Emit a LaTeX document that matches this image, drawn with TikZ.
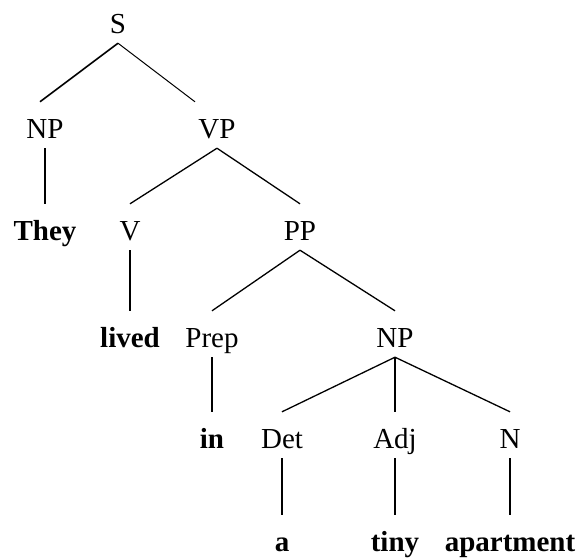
\documentclass[tikz,border=0pt]{standalone}
\usepackage{fontspec}
\setmainfont{Liberation Serif}
\begin{document}
\begin{tikzpicture}[x=1pt,y=-1pt,
    cat/.style={anchor=base,inner xsep=2pt,inner ysep=4pt,text height=32pt,text depth=6pt,font=\fontsize{29}{34}\selectfont},
    word/.style={cat,font=\fontsize{29}{34}\selectfont\bfseries},
    branch/.style={line width=1.3pt}]
    \useasboundingbox (0,0) rectangle (582,558);
    % top
    \node[cat] (s) at (118,33) {S};
    \node[cat] (np) at (45,138) {NP};
    \node[cat] (vp) at (217,138) {VP};
    \draw[branch,line width=1.6pt] (s.south) -- ([xshift=-5pt]np.north);
    \draw[branch,line width=1pt] (s.south) -- ([xshift=-22pt]vp.north);
    % subject
    \node[word] (they) at (45,240) {They};
    \draw[branch] (np.south) -- (they.north);
    % verb phrase
    \node[cat] (v) at (130,240) {V};
    \node[cat] (pp) at (300,240) {PP};
    \draw[branch] (vp.south) -- (v.north);
    \draw[branch] (vp.south) -- (pp.north);
    \node[word] (lived) at (130,347) {lived};
    \draw[branch] (v.south) -- (lived.north);
    % prepositional phrase
    \node[cat] (prep) at (212,347) {Prep};
    \node[cat] (npb) at (395,347) {NP};
    \draw[branch] (pp.south) -- (prep.north);
    \draw[branch] (pp.south) -- (npb.north);
    \node[word] (in) at (212,448) {in};
    \draw[branch] (prep.south) -- (in.north);
    % object
    \node[cat] (det) at (282,448) {Det};
    \node[cat] (adj) at (395,448) {Adj};
    \node[cat] (n) at (510,448) {N};
    \draw[branch] (npb.south) -- (det.north);
    \draw[branch] (npb.south) -- (adj.north);
    \draw[branch] (npb.south) -- (n.north);
    \node[word] (a) at (282,551) {a};
    \node[word] (tiny) at (395,551) {tiny};
    \node[word] (apt) at (510,551) {apartment};
    \draw[branch] (det.south) -- (a.north);
    \draw[branch] (adj.south) -- (tiny.north);
    \draw[branch] (n.south) -- (apt.north);
\end{tikzpicture}
\end{document}
